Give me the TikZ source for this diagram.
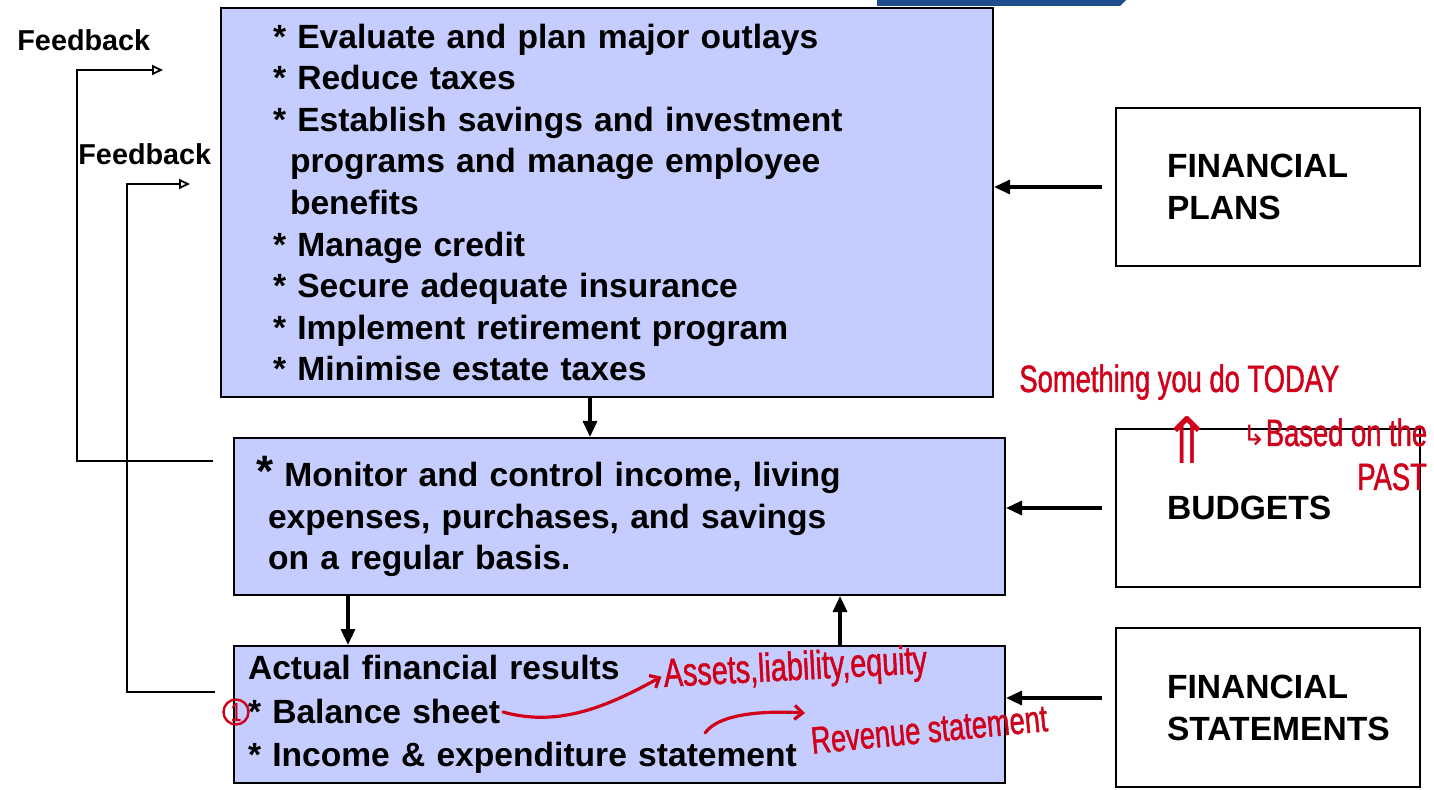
\documentclass[tikz,border=0pt]{standalone}
\usepackage{fontspec}
\setmainfont{Liberation Sans}
\newfontfamily\arrowfont{DejaVu Sans}
\newfontfamily\handfont[FakeStretch=0.72,FakeBold=1.2]{Liberation Sans}
\usepackage{xcolor}
\definecolor{PlanBlue}{HTML}{C4CDFE}
\definecolor{HeadBlue}{HTML}{1F4C8C}
\definecolor{InkRed}{HTML}{D0001B}
\usetikzlibrary{arrows.meta,positioning}

\begin{document}
\begin{tikzpicture}[
  x=0.5pt, y=-0.5pt,
  mainbox/.style={draw=black,line width=1pt,fill=PlanBlue,anchor=north west,align=left,inner ysep=0pt,font=\bfseries\fontsize{16.8}{20.8}\selectfont},
  sidebox/.style={draw=black,line width=1pt,fill=white,anchor=north west,align=left,inner xsep=25.5pt,text width=101pt,font=\bfseries\fontsize{16.8}{21}\selectfont},
  arrow/.style={-{Triangle[length=8pt,width=7pt]},line width=1.6pt},
  fbline/.style={-{Triangle[open,length=5.5pt,width=5pt]},line width=0.9pt},
  fblabel/.style={anchor=west,inner sep=0pt,font=\bfseries\fontsize{14.4}{16}\selectfont},
  ink/.style={text=InkRed,inner sep=1pt,font=\handfont\fontsize{19}{21}\selectfont},
  inkarrow/.style={draw=InkRed,line width=1.6pt,line cap=round,-{Straight Barb[length=4pt,width=7pt]}}
]
  \useasboundingbox (0,0) rectangle (1434,790);
  \fill[HeadBlue] (877,0) -- (1126,0) -- (1120,6) -- (877,6) -- cycle;

  \node[mainbox,inner xsep=26pt,text width=334pt,minimum height=194.5pt] (plan) at (220,7) {%
    {*} Evaluate and plan major outlays\\
    {*} Reduce taxes\\
    {*} Establish savings and investment\\
    \hspace*{8.5pt}programs and manage employee\\
    \hspace*{8.5pt}benefits\\
    {*} Manage credit\\
    {*} Secure adequate insurance\\
    {*} Implement retirement program\\
    {*} Minimise estate taxes};
  \node[mainbox,inner xsep=11pt,text width=363.5pt,minimum height=78.5pt] (budget) at (233,437) {%
    {\fontsize{22}{20}\selectfont *} Monitor and control income, living\\
    \hspace*{6pt}expenses, purchases, and savings\\
    \hspace*{6pt}on a regular basis.};
  \node[mainbox,inner xsep=7pt,text width=371.5pt,minimum height=68.5pt,font=\bfseries\fontsize{16.8}{21.75}\selectfont] (results) at (233,645) {%
    Actual financial results\\
    {*} Balance sheet\\
    {*} Income \& expenditure statement};

  \node[sidebox,minimum height=79pt] (plans) at (1115,107) {FINANCIAL\\PLANS};
  \node[sidebox,minimum height=79pt,below=80.5pt of plans] (budgets) {BUDGETS};
  \node[sidebox,minimum height=79.5pt,below=19.5pt of budgets] (statements) {FINANCIAL\\STATEMENTS};

  \draw[arrow,shorten <=6.5pt] (plans.west) -- (plans.west -| plan.east);
  \draw[arrow,shorten <=6.5pt] (budgets.west) -- (budgets.west -| budget.east);
  \draw[arrow,shorten <=6.5pt] ([yshift=4.75pt]statements.west) -- ([yshift=4.75pt]statements.west -| results.east);

  \draw[arrow] ([xshift=-8.5pt]plan.south) -- ([xshift=-8.5pt]plan.south |- budget.north);
  \draw[arrow] ([xshift=57.5pt]budget.south west) -- ([xshift=57.5pt]budget.south west |- results.north);
  \draw[arrow] ([xshift=303.5pt]results.north west) -- ([xshift=303.5pt]results.north west |- budget.south);

  % feedback loops
  \node[fblabel] (fbtext1) at (17,40) {Feedback};
  \node[fblabel] (fbtext2) at (78,154) {Feedback};
  \coordinate (fbtip1) at (163,70);
  \coordinate (fbtip2) at (190,184);
  \draw[fbline] ([shift={(-10pt,-12pt)}]budget.north west) -- ++(-68pt,0) |- (fbtip1);
  \draw[fbline] ([shift={(-9pt,-23.5pt)}]results.north west) -- ++(-44pt,0) |- (fbtip2);

  % handwritten notes
  \node[ink,anchor=base west] (today) at (1017,392) {Something you do TODAY};
  \node[ink,font=\arrowfont\fontsize{32}{32}\selectfont] (uparrow) at (1187,440) {⇑};
  \node[ink,anchor=base west] (past1) at (1240,446) {{\arrowfont\fontsize{14}{14}\selectfont ↳}Based on the};
  \node[ink,anchor=base west] (past2) at (1355,490) {PAST};
  \node[draw=InkRed,circle,line width=1.2pt,minimum size=12.5pt,inner sep=0pt,text=InkRed,font=\handfont\fontsize{13}{13}\selectfont] (one) at (236,712) {1};
  \node[ink,anchor=base west,rotate=3,font=\handfont\fontsize{20}{22}\selectfont] (assets) at (662,687) {Assets,liability,equity};
  \node[ink,anchor=base west,rotate=5.5] (revenue) at (810,754) {Revenue statement};
  \coordinate (bsend) at (503,712);
  \coordinate (incstart) at (705,733);
  \coordinate (revtip) at (805,713);
  \draw[inkarrow] (bsend) .. controls (560,728) and (610,705) .. (assets.west);
  \draw[inkarrow] (incstart) .. controls (720,712) and (770,711) .. (revtip);
\end{tikzpicture}
\end{document}
